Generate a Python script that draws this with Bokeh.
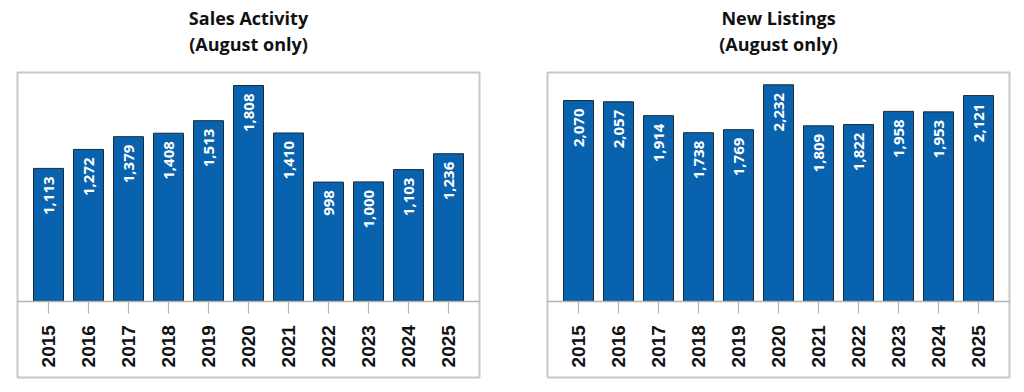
import math
from bokeh.plotting import figure
from bokeh.models import ColumnDataSource, Title, FactorRange, Range1d
from bokeh.layouts import row
from bokeh.core.properties import value
from bokeh.embed import file_html
from bokeh.resources import INLINE

years = ["2015", "2016", "2017", "2018", "2019", "2020", "2021", "2022", "2023", "2024", "2025"]
sales = [1113, 1272, 1379, 1408, 1513, 1808, 1410, 998, 1000, 1103, 1236]
listings = [2070, 2057, 1914, 1738, 1769, 2232, 1809, 1822, 1958, 1953, 2121]

BAR = "#0862ae"


def make_chart(title1, title2, vals, ymax, ymin, left_b, right_b):
    src = ColumnDataSource(dict(x=years, y=vals, lab=[f"{v:,}" for v in vals]))
    xr = FactorRange(*years, range_padding=0.05, range_padding_units="percent")
    p = figure(x_range=xr, y_range=Range1d(ymin, ymax),
               frame_width=462, frame_height=305,
               min_border_left=left_b, min_border_right=right_b,
               min_border_top=72, min_border_bottom=4,
               output_backend="svg", toolbar_location=None,
               y_axis_location=None)
    p.title.visible = False
    p.add_layout(Title(text=" ", text_font_size="13px", standoff=0), "above")
    p.add_layout(Title(text=title2, align="center", text_font="Open Sans",
                       text_font_size="18px", text_font_style="bold", text_color="#111111",
                       standoff=0), "above")
    p.add_layout(Title(text=title1, align="center", text_font="Open Sans",
                       text_font_size="18px", text_font_style="bold", text_color="#111111",
                       standoff=0), "above")
    p.vbar(x="x", top="y", width=0.75, source=src, fill_color=BAR,
           line_color="#1a2a3a", line_width=1)
    p.text(x="x", y="y", text="lab", source=src, angle=math.pi / 2,
           text_align="right", text_baseline="middle", y_offset=8,
           text_color="white", text_font=value("Open Sans"),
           text_font_size="15px", text_font_style="bold")
    p.xgrid.visible = False
    p.ygrid.visible = False
    ax = p.xaxis[0]
    ax.fixed_location = 0
    ax.axis_line_color = "#b4b4b4"
    ax.axis_line_width = 1.5
    ax.major_tick_in = 0
    ax.major_tick_out = 12
    ax.major_tick_line_color = "#b4b4b4"
    ax.major_tick_line_width = 1.2
    ax.minor_tick_line_color = None
    ax.major_label_orientation = math.pi / 2
    ax.major_label_standoff = 12
    ax.major_label_text_font = "Liberation Sans"
    ax.major_label_text_font_size = "19px"
    ax.major_label_text_font_style = "bold"
    ax.major_label_text_color = "#111111"
    p.outline_line_color = "#c8c8c8"
    p.outline_line_width = 2
    p.background_fill_color = "white"
    p.border_fill_color = "white"
    return p


p1 = make_chart("Sales Activity", "(August only)", sales, 1917, -640, 17, 24)
p2 = make_chart("New Listings", "(August only)", listings, 2359, -787, 44, 8)

layout = row(p1, p2)
open("out.html", "w").write(file_html(layout, INLINE))
